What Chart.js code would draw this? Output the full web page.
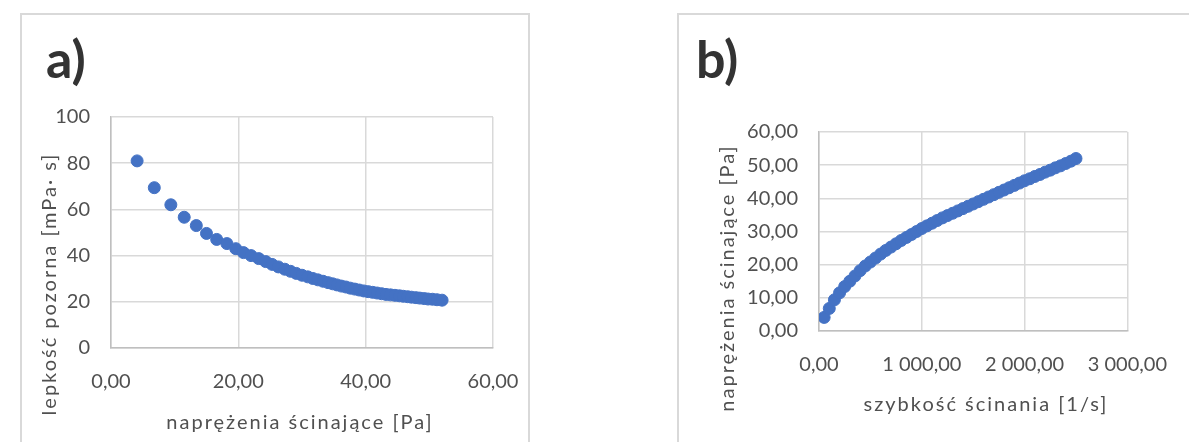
<!DOCTYPE html>
<html>
<head>
<meta charset="utf-8">
<script src="https://cdn.jsdelivr.net/npm/chart.js@4.4.1/dist/chart.umd.min.js"></script>
<style>
  body { margin: 0; background: #fff; width: 1189px; height: 442px; overflow: hidden; position: relative; }
  .panel { position: absolute; border: 2px solid #d9d9d9; box-sizing: border-box; }
  #panelA { left: 20px; top: 13px; width: 510px; height: 460px; }
  #panelB { left: 677px; top: 13px; width: 560px; height: 460px; }
  canvas { position: absolute; top: 0; }
  #chartA { left: 0; }
  #chartB { left: 600px; }
</style>
</head>
<body>
<div class="panel" id="panelA"></div>
<div class="panel" id="panelB"></div>
<canvas id="chartA" width="600" height="442"></canvas>
<canvas id="chartB" width="589" height="442"></canvas>
<script>
// shear rate [1/s], read off chart b)
const shearRate = [50, 100, 150, 200, 250, 300, 350, 400, 450, 500,
  550, 600, 650, 700, 750, 800, 850, 900, 950, 1000,
  1050, 1100, 1150, 1200, 1250, 1300, 1350, 1400, 1450, 1500,
  1550, 1600, 1650, 1700, 1750, 1800, 1850, 1900, 1950, 2000,
  2050, 2100, 2150, 2200, 2250, 2300, 2350, 2400, 2450, 2500];

// shear stress [Pa]
const stress = [4.1, 6.8, 9.4, 11.5, 13.4, 15.0, 16.6, 18.2, 19.6, 20.8,
  22.0, 23.2, 24.3, 25.3, 26.3, 27.3, 28.2, 29.1, 30.0, 30.9,
  31.7, 32.5, 33.3, 34.1, 34.8, 35.5, 36.2, 36.9, 37.6, 38.3,
  39.0, 39.7, 40.4, 41.1, 41.8, 42.5, 43.2, 43.9, 44.6, 45.3,
  45.9, 46.6, 47.2, 47.9, 48.5, 49.2, 49.8, 50.5, 51.2, 52.0];

// apparent viscosity [mPa·s], read off chart a)
const viscosity = [81.0, 69.4, 62.0, 56.6, 53.0, 49.6, 47.0, 45.2, 43.0, 41.3,
  40.0, 38.7, 37.4, 36.2, 35.1, 34.1, 33.2, 32.3, 31.5, 30.8,
  30.1, 29.5, 28.9, 28.3, 27.8, 27.3, 26.8, 26.4, 25.9, 25.5,
  25.1, 24.7, 24.4, 24.1, 23.8, 23.5, 23.2, 23.0, 22.8, 22.6,
  22.4, 22.2, 22.0, 21.8, 21.6, 21.4, 21.2, 21.1, 20.9, 20.7];

// tick labels
const aXTicks = ['0,00', '20,00', '40,00', '60,00'];
const aYTicks = ['0', '20', '40', '60', '80', '100'];
const bXTicks = ['0,00', '1 000,00', '2 000,00', '3 000,00'];
const bYTicks = ['0,00', '10,00', '20,00', '30,00', '40,00', '50,00', '60,00'];

const blue = '#4472C4';
const textGrey = '#505050';
const tickFont = { family: 'Lato', size: 20 };

// panel letter + axis titles
const labelPlugin = {
  id: 'labels',
  afterDraw(chart, args, o) {
    const ctx = chart.ctx;
    ctx.save();
    ctx.fillStyle = '#333333';
    ctx.font = 'bold 52px Lato';
    ctx.textAlign = 'left';
    ctx.textBaseline = 'alphabetic';
    ctx.fillText(o.letter, o.letterX, o.letterY);

    ctx.fillStyle = textGrey;
    ctx.font = '20px Lato';
    ctx.letterSpacing = '2px';
    ctx.textAlign = 'center';
    ctx.textBaseline = 'middle';
    ctx.fillText(o.xTitle, o.xTitleX, o.xTitleY);
    ctx.translate(o.yTitleX, o.yTitleY);
    ctx.rotate(-Math.PI / 2);
    ctx.fillText(o.yTitle, 0, 0);
    ctx.restore();
  }
};

function axis(min, max, step, labels, pad, size, horizontal) {
  return {
    type: 'linear',
    min: min,
    max: max,
    ticks: {
      stepSize: step,
      padding: pad,
      color: textGrey,
      font: tickFont,
      callback: (v, i) => labels[i]
    },
    grid: { color: '#d9d9d9', lineWidth: 1.5, drawTicks: false },
    border: { color: '#bfbfbf', width: 1.5 },
    afterFit: s => { if (horizontal) s.height = size; else s.width = size; }
  };
}

// a) viscosity vs shear stress
const chartA = new Chart(document.getElementById('chartA'), {
  type: 'scatter',
  data: {
    datasets: [{
      data: stress.map((s, i) => ({ x: s, y: viscosity[i] })),
      backgroundColor: blue,
      borderColor: blue,
      pointRadius: 6,
      pointBorderWidth: 1
    }]
  },
  options: {
    responsive: false,
    animation: false,
    layout: { padding: { left: 0, top: 117, right: 107, bottom: 0 } },
    scales: {
      x: axis(0, 60, 20, aXTicks, 22, 94, true),
      y: axis(0, 100, 20, aYTicks, 21, 111, false)
    },
    plugins: {
      legend: { display: false },
      tooltip: { enabled: false },
      labels: {
        letter: 'a)', letterX: 46, letterY: 78,
        xTitle: 'naprężenia ścinające [Pa]', xTitleX: 300, xTitleY: 423,
        yTitle: 'lepkość pozorna [mPa· s]', yTitleX: 50, yTitleY: 284
      }
    }
  },
  plugins: [labelPlugin]
});

// b) shear stress vs shear rate
const chartB = new Chart(document.getElementById('chartB'), {
  type: 'scatter',
  data: {
    datasets: [{
      data: shearRate.map((r, i) => ({ x: r, y: stress[i] })),
      backgroundColor: blue,
      borderColor: blue,
      pointRadius: 6,
      pointBorderWidth: 1
    }]
  },
  options: {
    responsive: false,
    animation: false,
    layout: { padding: { left: 0, top: 132, right: 43, bottom: 0 } },
    scales: {
      x: axis(0, 3000, 1000, bXTicks, 22, 111, true),
      y: axis(0, 60, 10, bYTicks, 21, 219, false)
    },
    plugins: {
      legend: { display: false },
      tooltip: { enabled: false },
      labels: {
        letter: 'b)', letterX: 96, letterY: 78,
        xTitle: 'szybkość ścinania [1/s]', xTitleX: 386, xTitleY: 405,
        yTitle: 'naprężenia ścinające [Pa]', yTitleX: 128, yTitleY: 278
      }
    }
  },
  plugins: [labelPlugin]
});
</script>
</body>
</html>
